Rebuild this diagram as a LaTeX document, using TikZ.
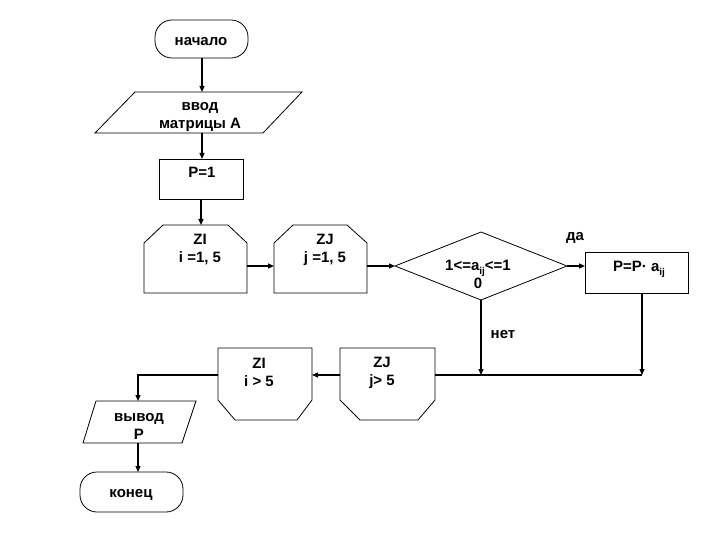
\documentclass[tikz,border=0pt]{standalone}
\usepackage{fontspec}
\setmainfont{Liberation Sans}
\usetikzlibrary{shapes.geometric,arrows.meta}
\newcommand{\subij}{\raisebox{-4pt}{\fontsize{10}{10}\selectfont ij}}
\begin{document}
\begin{tikzpicture}[x=1pt,y=-1pt,
  blk/.style={draw,line width=0.8pt,inner sep=0pt,outer sep=0pt},
  anch/.style={inner sep=0pt,outer sep=0pt},
  txt/.style={font=\fontsize{15}{18}\bfseries\selectfont,inner sep=0pt,align=center},
  conn/.style={line width=1.3pt,-{Triangle[length=6pt,width=5pt]}},
  plain/.style={line width=1.1pt}]
\useasboundingbox (0,0) rectangle (720,540);
\fill[white] (0,0) rectangle (720,540);
% shapes
\node[blk,rounded corners=17pt,minimum width=93pt,minimum height=38pt] (start) at (201.5,39) {};
\node[anch,minimum width=207pt,minimum height=41pt] (in1) at (198.5,112.5) {};
\draw[blk] (135,92) -- (302,92) -- (263,133) -- (95,133) -- cycle;
\node[blk,minimum width=84pt,minimum height=40pt] (p1) at (201,179) {};
\node[anch,minimum width=103pt,minimum height=68pt] (zi) at (195.5,259) {};
\draw[blk] (144,293) -- (144,243) -- (163,225) -- (228,225) -- (247,243) -- (247,293) -- cycle;
\node[anch,minimum width=93pt,minimum height=68pt] (zj) at (320.5,259) {};
\draw[blk] (274,293) -- (274,243) -- (293,225) -- (347,225) -- (367,243) -- (367,293) -- cycle;
\node[blk,diamond,inner sep=0.5pt,minimum width=172pt,minimum height=68pt] (d) at (481,266) {};
\node[blk,minimum width=103pt,minimum height=41pt] (pa) at (636.5,272.5) {};
\node[anch,minimum width=95pt,minimum height=72pt] (zj2) at (387.5,384) {};
\draw[blk] (340,348) -- (435,348) -- (435,400) -- (418,420) -- (360,420) -- (340,400) -- cycle;
\node[anch,minimum width=94pt,minimum height=72pt] (zi2) at (265,384) {};
\draw[blk] (218,348) -- (312,348) -- (312,400) -- (297,420) -- (235,420) -- (218,400) -- cycle;
\node[anch,minimum width=113pt,minimum height=42pt] (out) at (139.5,422) {};
\draw[blk] (96,401) -- (196,401) -- (182,443) -- (83,443) -- cycle;
\node[blk,rounded corners=17pt,minimum width=103pt,minimum height=40pt] (end) at (131.5,492) {};
% texts
\node[txt] (tstart) at (201,42) {начало};
\node[txt] (tin) at (200,117) {ввод\\матрицы А};
\node[txt] (tp1) at (202,172) {P=1};
\node[txt] (tzi) at (200,250) {ZI\\i =1, 5};
\node[txt] (tzj) at (325,250) {ZJ\\j =1, 5};
\node[txt] (td) at (478,274) {1<=a\subij<=1\\0};
\node[txt] (tpa) at (639,269) {P=P· a\subij};
\node[txt] (tzj2) at (382,372.5) {ZJ\\j> 5};
\node[txt] (tzi2) at (259,372.5) {ZI\\i > 5};
\node[txt] (tout) at (139,426.5) {вывод\\P};
\node[txt] (tend) at (131,495) {конец};
\node[txt] (yes) at (575,238) {да};
\node[txt] (no) at (503,335) {нет};
% connectors
\coordinate (m1) at (481,375);
\coordinate (m2) at (642,375);
\coordinate (c3) at (138,375);
\draw[conn] ([xshift=0.5pt]start.south) -- ([xshift=0.5pt]start.south |- in1.north);
\draw[conn] ([xshift=0.5pt]start.south |- in1.south) -- ([xshift=0.5pt]start.south |- p1.north);
\draw[conn] (p1.south) -- (p1.south |- zi.north);
\draw[conn] ([yshift=-7pt]zi.east) -- ([yshift=-7pt]zi.east -| zj.west);
\draw[conn] ([yshift=-7pt]zj.east) -- (d.west);
\draw[conn] (d.east) -- (d.east -| pa.west);
\draw[conn] (d.south) -- (m1);
\draw[conn] ([xshift=5.5pt]pa.south) -- (m2);
\draw[plain] (m2) -- (m2 -| zj2.east);
\draw[conn] (m2 -| zj2.west) -- (m2 -| zi2.east);
\draw[conn] (m2 -| zi2.west) -- (c3) -- (c3 |- out.north);
\draw[conn] (c3 |- out.south) -- (c3 |- end.north);
\end{tikzpicture}
\end{document}
